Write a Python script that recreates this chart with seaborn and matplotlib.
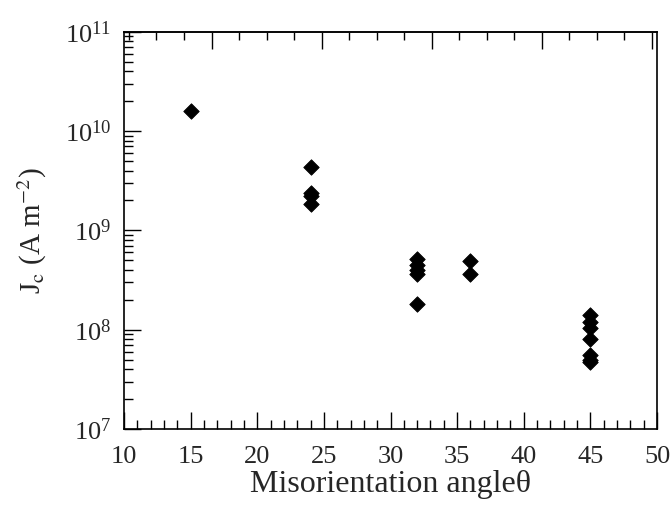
import numpy as np
import pandas as pd
import matplotlib
matplotlib.use("Agg")
import matplotlib.pyplot as plt
import seaborn as sns
from matplotlib.ticker import MultipleLocator, LogLocator, NullFormatter, FixedLocator

# ---- data ----
theta_15 = [15]
jc_15 = [1.6e10]
theta_24 = [24, 24, 24, 24]
jc_24 = [4.3e9, 2.4e9, 2.2e9, 1.85e9]
theta_32 = [32, 32, 32, 32, 32]
jc_32 = [5.2e8, 4.5e8, 4.0e8, 3.6e8, 1.8e8]
theta_36 = [36, 36]
jc_36 = [4.9e8, 3.65e8]
theta_45 = [45, 45, 45, 45, 45, 45, 45]
jc_45 = [1.4e8, 1.2e8, 1.05e8, 8.0e7, 5.5e7, 5.0e7, 4.7e7]

x_label = "Misorientation angle\u03b8"
y_label = r"J$_\mathrm{c}$ (A m$^{\mathrm{-2}}$)"

df = pd.DataFrame({
    "theta": theta_15 + theta_24 + theta_32 + theta_36 + theta_45,
    "jc": jc_15 + jc_24 + jc_32 + jc_36 + jc_45,
})

sns.set_style("ticks")
plt.rcParams["font.family"] = ["Liberation Serif", "DejaVu Serif"]
plt.rcParams["mathtext.fontset"] = "stix"

fig = plt.figure(figsize=(6.72, 5.13), dpi=100)
ax = fig.add_axes([124 / 672, 1 - 429 / 513, (657 - 124) / 672, (429 - 31.7) / 513])

sns.scatterplot(data=df, x="theta", y="jc", marker="D", color="black",
                s=62, edgecolor="black", linewidth=0.6, ax=ax, legend=False)

ax.set_yscale("log")
ax.set_xlim(10, 50)
ax.set_ylim(1e7, 1e11)

ax.xaxis.set_major_locator(MultipleLocator(5))
ax.xaxis.set_minor_locator(MultipleLocator(1))
ax.yaxis.set_major_locator(LogLocator(base=10, numticks=10))
ax.yaxis.set_minor_locator(LogLocator(base=10, subs=np.arange(2, 10), numticks=20))
ax.yaxis.set_minor_formatter(NullFormatter())

for s in ax.spines.values():
    s.set_linewidth(1.2)
    s.set_color("black")

ax.tick_params(which="both", direction="in", top=False, right=False, width=1.0, color="black")
ax.tick_params(which="major", length=12.5, labelsize=19)
ax.tick_params(which="minor", length=6.5)
ax.tick_params(axis="x", which="major", pad=12)
ax.tick_params(axis="y", which="major", pad=9)

# top axis ticks (unlabelled, own spacing as in the reference)
sec = ax.secondary_xaxis("top")
step = 2.064
start = 10.375
top_minor = [start + k * step for k in range(20)]
top_major = [start + k * step for k in range(3, 20, 4)]
sec.xaxis.set_major_locator(FixedLocator(top_major))
sec.xaxis.set_minor_locator(FixedLocator(top_minor))
sec.tick_params(which="both", direction="in", labeltop=False, width=1.0, color="black")
sec.tick_params(which="major", length=12.5)
sec.tick_params(which="minor", length=6.0)
sec.spines["top"].set_linewidth(1.2)

ax.set_xlabel(x_label, fontsize=23)
ax.set_ylabel(y_label, fontsize=21)
ax.xaxis.set_label_coords(0.5, -0.102)
ax.yaxis.set_label_coords(-0.14, 0.5)

fig.savefig("out.png", dpi=100, facecolor="white")
